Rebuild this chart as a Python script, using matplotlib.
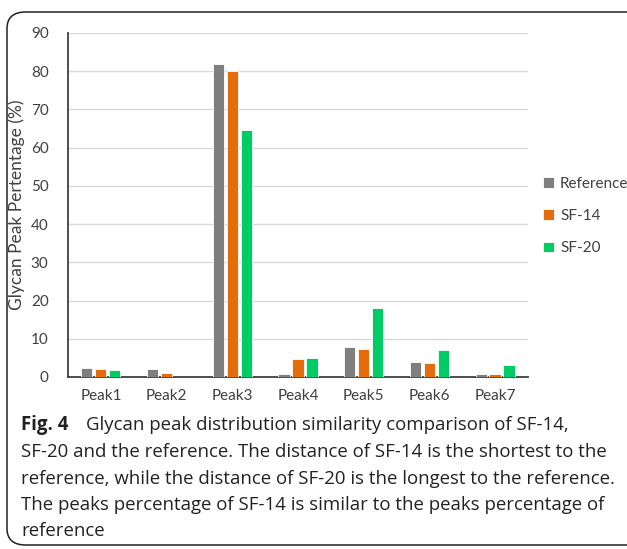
import matplotlib.pyplot as plt
import numpy as np
from matplotlib.patches import FancyBboxPatch

peaks = ["Peak1", "Peak2", "Peak3", "Peak4", "Peak5", "Peak6", "Peak7"]
reference = [2.4, 2.1, 81.9, 0.9, 7.8, 3.8, 0.9]
sf14 = [2.2, 1.1, 80.1, 4.6, 7.2, 3.7, 0.7]
sf20 = [1.9, 0.0, 64.6, 4.9, 18.1, 7.1, 3.2]
series = ["Reference", "SF-14", "SF-20"]
colors = ["#7F7F7F", "#E46C0A", "#00CC66"]
yticks = list(range(0, 91, 10))

caption_lines = [
    "SF-20 and the reference. The distance of SF-14 is the shortest to the",
    "reference, while the distance of SF-20 is the longest to the reference.",
    "The peaks percentage of SF-14 is similar to the peaks percentage of",
    "reference",
]

plt.rcParams["font.family"] = ["Lato", "DejaVu Sans"]

fig = plt.figure(figsize=(6.27, 5.49), dpi=100)
ax = fig.add_axes([0.1085, 0.3133, 0.7335, 0.6266])

x = np.arange(len(peaks))
w = 0.17
offs = [-0.213, 0.0, 0.213]
for vals, name, c, o in zip([reference, sf14, sf20], series, colors, offs):
    ax.bar(x + o, vals, w, color=c, label=name, edgecolor="white",
           linewidth=0.6, zorder=3)

ax.set_xlim(-0.5, len(peaks) - 0.5)
ax.set_ylim(0, 90)
ax.set_yticks(yticks)
ax.set_xticks(x)
ax.set_xticklabels(peaks)
ax.tick_params(length=0, labelsize=11, colors="#404040", pad=9)
ax.tick_params(axis="y", pad=14)
ax.grid(axis="y", color="#D9D9D9", linewidth=1, zorder=0)
for s in ["top", "right"]:
    ax.spines[s].set_visible(False)
ax.spines["left"].set_color("#404040")
ax.spines["left"].set_linewidth(1.3)
ax.spines["bottom"].set_color("#404040")
ax.spines["bottom"].set_linewidth(1.3)
ax.set_ylabel("Glycan Peak Pertentage (%)", fontsize=12.5, color="#404040")
ax.yaxis.set_label_coords(-0.094, 0.5)

leg = ax.legend(loc="center left", bbox_to_anchor=(1.02, 0.468), frameon=False,
                fontsize=11, handlelength=0.7, handleheight=0.7,
                handletextpad=0.4, labelspacing=1.2, borderaxespad=0)
for t in leg.get_texts():
    t.set_color("#404040")

# rounded frame around figure + caption
frame = FancyBboxPatch((7 / 627, 4 / 549), 1.2, 1 - 16 / 549,
                       boxstyle="round,pad=0,rounding_size=0.03",
                       transform=fig.transFigure, fill=False,
                       edgecolor="#222222", linewidth=1.1, clip_on=False)
fig.patches.append(frame)

cap_font = ["Open Sans", "DejaVu Sans"]
cap_size = 13.4
x0 = 21 / 627
fig.text(x0, 1 - 425 / 549, "Fig. 4", fontsize=cap_size, fontweight="bold",
         family=cap_font, va="center", color="#222222")
fig.text(86 / 627, 1 - 425 / 549,
         "Glycan peak distribution similarity comparison of SF-14,",
         fontsize=cap_size, family=cap_font, va="center", color="#222222")
for i, line in enumerate(caption_lines):
    fig.text(x0, 1 - (452 + 26.5 * i) / 549, line, fontsize=cap_size,
             family=cap_font, va="center", color="#222222")

fig.savefig("out.png", dpi=100)
